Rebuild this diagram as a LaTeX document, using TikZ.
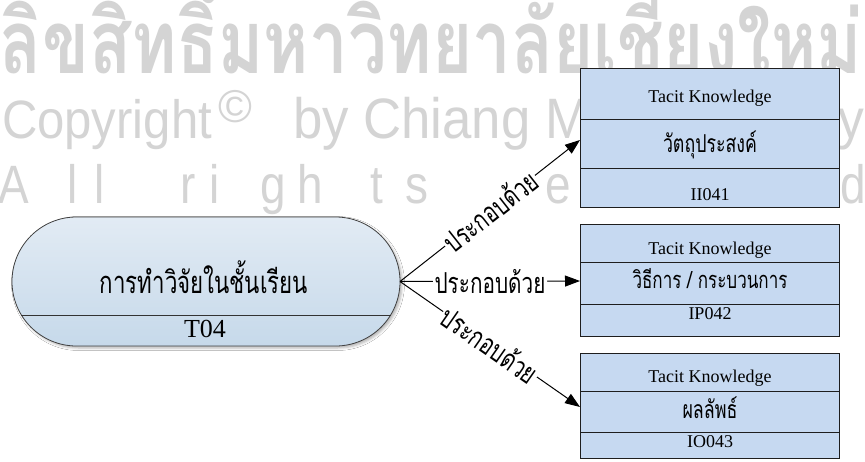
\documentclass[tikz,border=0pt]{standalone}
\usepackage{fontspec}
\usepackage{graphicx}
\setmainfont{Liberation Serif}
\newfontfamily\thaifont[Script=Thai]{Loma}
\newfontfamily\wmfont{Liberation Sans}
\usetikzlibrary{arrows.meta,shapes.misc,shadows.blur}
\definecolor{kblue}{HTML}{C6D9F1}
\definecolor{pilltop}{RGB}{226,235,244}
\definecolor{pillbot}{RGB}{198,217,234}
\definecolor{wmgray}{RGB}{212,212,212}
\definecolor{edge}{RGB}{30,30,30}
\newcommand{\thw}[3]{\resizebox{#1}{!}{\scalebox{#2}[1]{\thaifont #3}}}
\begin{document}
\begin{tikzpicture}[x=1pt,y=-1pt,
  wm/.style={text=wmgray, inner sep=0, outer sep=0, text depth=0pt},
  wmletter/.style={wm, anchor=base, font=\wmfont\fontsize{54pt}{60pt}\selectfont},
  kbox/.style={draw=edge, line width=1pt, fill=kblue, minimum width=259pt, inner sep=0, outer sep=0, anchor=north west},
  ktext/.style={inner sep=0, anchor=base, font=\fontsize{18pt}{20pt}\selectfont},
  conn/.style={draw=black, line width=1pt, -{Triangle[length=15pt,width=11pt]}},
  lbl/.style={fill=white, inner sep=1.5pt, sloped},
  pill/.style={rounded rectangle, draw=black!75, line width=0.8pt, top color=pilltop, bottom color=pillbot,
    minimum width=388pt, minimum height=129pt, inner sep=0, outer sep=0,
    blur shadow={shadow xshift=2pt, shadow yshift=-2pt, shadow blur radius=2.5pt, shadow opacity=30}}]
\useasboundingbox (0,0) rectangle (865,461);
\clip (0,0) rectangle (865,461);
\fill[white] (0,0) rectangle (865,461);

% watermark
\node[wm, anchor=base west] (wmth) at (0,73) {\resizebox{862pt}{!}{\scalebox{0.78}[1]{\thaifont\bfseries ลิขสิทธิ์มหาวิทยาลัยเชียงใหม่}}};
\node[wm, anchor=base west] (wmcopy) at (2,138) {\resizebox{210pt}{!}{\scalebox{1}[1.1]{\wmfont Copyright}}};
\node[wm, anchor=center, font=\wmfont\fontsize{46pt}{50pt}\selectfont] (wmc) at (235,106) {©};
\node[wm, anchor=base west] (wmby) at (293,138) {\resizebox{296pt}{!}{\scalebox{1}[1.08]{\wmfont by Chiang M}}};
\node[wm, anchor=base, font=\wmfont\fontsize{51.5pt}{55pt}\selectfont] (wmy) at (851,138) {\scalebox{1}[1.08]{y}};
\foreach \c/\x [count=\i] in {A/14, l/73, l/100, r/188, i/215, g/273, h/310, t/377, s/417, e/558, d/853}
  \node[wmletter] (wl\i) at (\x,203) {\scalebox{0.85}[1]{\c}};

% main pill
\node[pill] (pill) at (206,281.5) {};
\coordinate (dl) at (21.4,315);
\coordinate (dr) at (390.6,315);
\draw[draw=black!80, line width=0.8pt] (dl) -- (dr);
\node[inner sep=0, anchor=base] (ptitle) at (204,293) {\thw{208pt}{0.72}{การทำวิจัยในชั้นเรียน}};
\node[inner sep=0, anchor=base, font=\fontsize{26pt}{28pt}\selectfont] (pcode) at (205,337) {T04};

% box 1
\node[kbox, minimum height=51pt] (b1t) at (580,68) {};
\node[kbox, minimum height=49pt] (b1m) at (580,119) {};
\node[kbox, minimum height=39pt] (b1b) at (580,168) {};
\node[ktext] (b1tt) at (710,102) {Tacit Knowledge};
\node[inner sep=0, anchor=base] (b1mt) at (710,152) {\thw{94pt}{0.72}{วัตถุประสงค์}};
\node[ktext] (b1bt) at (710,200) {II041};

% box 2
\node[kbox, minimum height=38pt] (b2t) at (580,224) {};
\node[kbox, minimum height=42pt] (b2m) at (580,262) {};
\node[kbox, minimum height=32pt] (b2b) at (580,304) {};
\node[ktext] (b2tt) at (710,254) {Tacit Knowledge};
\node[inner sep=0, anchor=base] (b2mt) at (710,288) {\thw{155pt}{0.72}{วิธีการ / กระบวนการ}};
\node[ktext] (b2bt) at (710,319) {IP042};

% box 3
\node[kbox, minimum height=38pt] (b3t) at (580,353) {};
\node[kbox, minimum height=41pt] (b3m) at (580,391) {};
\node[kbox, minimum height=26pt] (b3b) at (580,432) {};
\node[ktext] (b3tt) at (710,382) {Tacit Knowledge};
\node[inner sep=0, anchor=base] (b3mt) at (710,418) {\thw{55pt}{0.72}{ผลลัพธ์}};
\node[ktext] (b3bt) at (710,447) {IO043};

% connectors
\draw[conn] (pill.east) -- node[lbl] (l1) {\thw{111pt}{0.72}{ประกอบด้วย}} ([yshift=3.5pt]b1m.west);
\draw[conn] (pill.east) -- node[lbl] (l2) {\thw{111pt}{0.72}{ประกอบด้วย}} ([yshift=2pt]b2m.west);
\draw[conn] (pill.east) -- node[lbl] (l3) {\thw{111pt}{0.72}{ประกอบด้วย}} ([yshift=4.5pt]b3m.west);
\end{tikzpicture}
\end{document}
